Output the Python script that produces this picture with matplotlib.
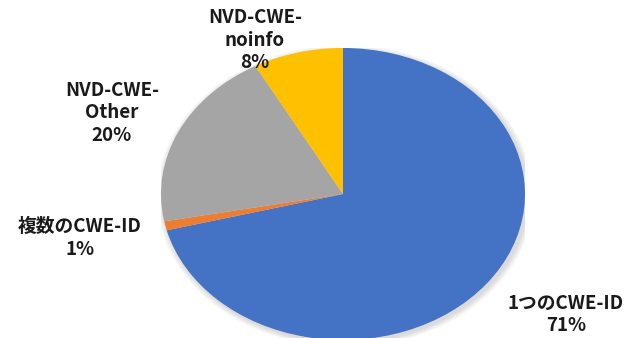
import matplotlib
matplotlib.use("Agg")
import matplotlib.pyplot as plt
from matplotlib.patches import Ellipse

plt.rcParams['font.family'] = ['Noto Sans CJK JP', 'DejaVu Sans']

# CWE classification shares (%)
categories = ['1つのCWE-ID', '複数のCWE-ID', 'NVD-CWE-\nOther', 'NVD-CWE-\nnoinfo']
shares = [71, 1, 20, 8]
colors = ['#4472C4', '#ED7D31', '#A5A5A5', '#FFC000']

W, H = 641, 338
fig = plt.figure(figsize=(W / 100, H / 100), dpi=100)
fig.patch.set_facecolor('white')

# pie region in pixels (centre and radii); the chart is stretched horizontally
cx, cy, rx, ry = 343, 194, 182, 146
ax = fig.add_axes([(cx - rx) / W, (H - cy - ry) / H, 2 * rx / W, 2 * ry / H])

# soft drop shadow beneath the pie
for k in range(1, 7):
    ax.add_patch(Ellipse((0.012, -0.015), 2 + k * 0.012, 2 + k * 0.012,
                         facecolor='black', alpha=0.025, edgecolor='none', zorder=0))

wedges, _ = ax.pie(shares, colors=colors, startangle=90, counterclock=False,
                   radius=1, wedgeprops=dict(linewidth=0))
for w in wedges:
    w.set_zorder(2)
ax.set_aspect('auto')
ax.set_xlim(-1, 1)
ax.set_ylim(-1, 1)
ax.axis('off')

# category labels with percentages
label_pos = [(566, 314), (80, 238), (112, 113), (255, 40)]
for name, val, (lx, ly) in zip(categories, shares, label_pos):
    fig.text(lx / W, 1 - ly / H, f'{name}\n{val}%', ha='center', va='center',
             multialignment='center', fontsize=13.5, fontweight='bold',
             color='#1a1a1a', linespacing=1.22)

fig.savefig('out.png', dpi=100)
